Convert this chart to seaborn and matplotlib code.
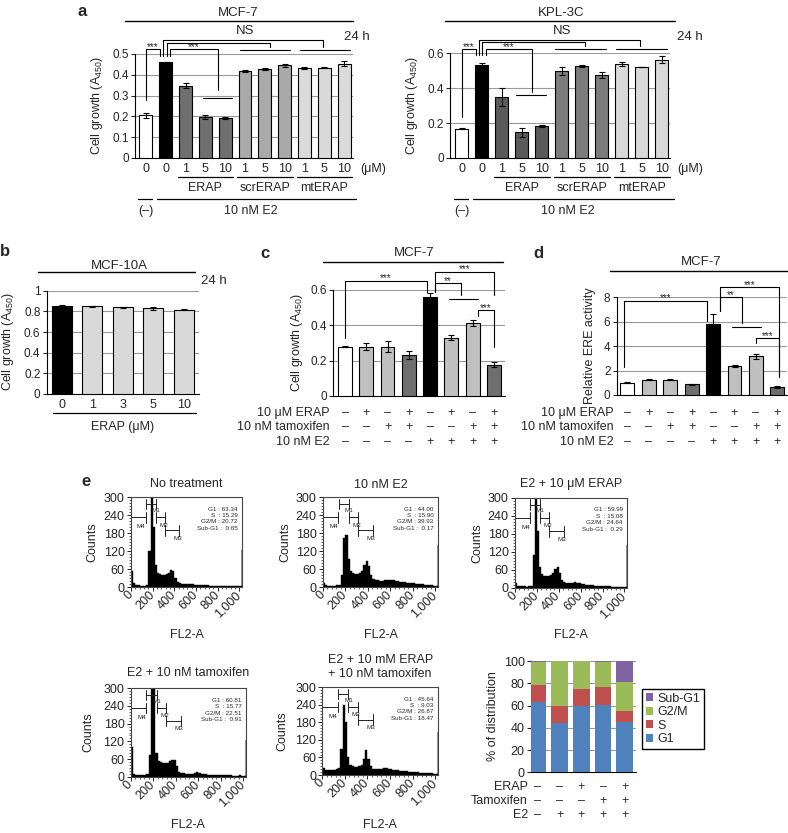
import numpy as np
import matplotlib
matplotlib.use("Agg")
import matplotlib.pyplot as plt
from matplotlib.lines import Line2D
from matplotlib.patches import Patch
from matplotlib.ticker import MultipleLocator
from matplotlib.transforms import blended_transform_factory
import seaborn as sns

W, H = 788, 833

# ---- panel a: cell growth, 24 h ----
a_doses = ["0", "0", "1", "5", "10", "1", "5", "10", "1", "5", "10"]
a_groups = ["ERAP", "scrERAP", "mtERAP"]
mcf7_growth = [0.205, 0.460, 0.348, 0.198, 0.193, 0.418, 0.428, 0.445, 0.432, 0.435, 0.452]
mcf7_err = [0.012, 0.003, 0.012, 0.010, 0.005, 0.003, 0.003, 0.007, 0.005, 0.001, 0.012]
kpl_growth = [0.168, 0.535, 0.350, 0.148, 0.185, 0.500, 0.525, 0.475, 0.540, 0.520, 0.563]
kpl_err = [0.002, 0.008, 0.050, 0.025, 0.005, 0.022, 0.006, 0.018, 0.012, 0.001, 0.020]

# ---- panel b: MCF-10A ----
b_doses = ["0", "1", "3", "5", "10"]
mcf10a_growth = [0.850, 0.848, 0.840, 0.828, 0.817]
mcf10a_err = [0.008, 0.002, 0.006, 0.015, 0.006]

# ---- panels c, d ----
row_names = ["10 \u03bcM ERAP", "10 nM tamoxifen", "10 nM E2"]
erap_row = ["\u2013", "+", "\u2013", "+", "\u2013", "+", "\u2013", "+"]
tam_row = ["\u2013", "\u2013", "+", "+", "\u2013", "\u2013", "+", "+"]
e2_row = ["\u2013", "\u2013", "\u2013", "\u2013", "+", "+", "+", "+"]
c_growth = [0.280, 0.280, 0.280, 0.232, 0.563, 0.330, 0.413, 0.177]
c_err = [0.002, 0.020, 0.032, 0.022, 0.022, 0.013, 0.015, 0.015]
d_ere = [1.02, 1.25, 1.25, 0.87, 5.80, 2.38, 3.18, 0.65]
d_err = [0.03, 0.02, 0.02, 0.06, 0.80, 0.10, 0.20, 0.06]

# ---- panel e: cell cycle ----
e_titles = ["No treatment", "10 nM E2", "E2 + 10 \u03bcM ERAP",
            "E2 + 10 nM tamoxifen", "E2 + 10 mM ERAP\n+ 10 nM tamoxifen"]
g1_pct = [63.34, 44.00, 59.99, 60.81, 45.64]
s_pct = [15.29, 15.90, 15.08, 15.77, 9.03]
g2m_pct = [20.72, 39.93, 24.64, 22.51, 26.87]
subg1_pct = [0.65, 0.17, 0.29, 0.91, 18.47]
e_erap = ["\u2013", "\u2013", "+", "\u2013", "+"]
e_tam = ["\u2013", "\u2013", "\u2013", "+", "+"]
e_e2 = ["\u2013", "+", "+", "+", "+"]

# FL2-A histograms, counts per 20-channel bin (last bin = channel 1023 pile-up)
fl2_channel = list(range(0, 1001, 20)) + [1020]
hist_no_treatment = [55, 14, 8, 6, 5, 5, 5, 7, 120, 300,
                     200, 75, 48, 42, 40, 40, 42, 48, 58, 52,
                     30, 16, 12, 11, 10, 10, 9, 9, 9, 8,
                     8, 7, 7, 6, 6, 6, 5, 5, 5, 5,
                     4, 4, 4, 4, 4, 3, 3, 3, 3, 3, 3, 125]
hist_e2 = [12, 6, 5, 5, 5, 5, 6, 8, 40, 165,
           172, 95, 55, 48, 45, 45, 47, 55, 75, 87,
           70, 40, 28, 24, 22, 21, 21, 22, 23, 24,
           23, 22, 20, 19, 18, 17, 16, 15, 14, 13,
           12, 11, 10, 10, 9, 8, 7, 6, 6, 5, 5, 140]
hist_e2_erap = [15, 8, 5, 5, 5, 4, 5, 8, 110, 300,
                190, 70, 45, 40, 40, 40, 42, 50, 62, 70,
                50, 28, 20, 18, 17, 17, 18, 20, 18, 16,
                14, 12, 11, 10, 9, 9, 8, 7, 7, 6,
                6, 5, 5, 5, 4, 4, 4, 4, 3, 3, 3, 143]
hist_e2_tam = [100, 10, 6, 5, 5, 5, 6, 10, 75, 300,
               300, 80, 52, 50, 48, 46, 48, 52, 57, 55,
               35, 15, 12, 11, 10, 10, 10, 10, 12, 15,
               11, 9, 8, 8, 7, 7, 6, 6, 6, 5,
               5, 5, 5, 5, 5, 4, 4, 4, 5, 4, 4, 125]
hist_e2_erap_tam = [25, 18, 18, 17, 18, 18, 20, 25, 90, 240,
                    180, 60, 35, 30, 28, 28, 30, 35, 55, 85,
                    55, 30, 22, 20, 20, 21, 22, 23, 24, 22,
                    20, 18, 17, 16, 15, 14, 13, 12, 11, 10,
                    10, 9, 9, 8, 8, 7, 7, 6, 6, 5, 5, 148]

sns.set_style("ticks")
plt.rcParams["font.family"] = ["Liberation Sans", "DejaVu Sans"]
plt.rcParams["mathtext.default"] = "regular"
plt.rcParams["font.size"] = 9
plt.rcParams["axes.linewidth"] = 0.8

fig = plt.figure(figsize=(W / 100, H / 100), dpi=100)


def add_ax(left, top, right, bottom):
    return fig.add_axes([left / W, 1 - bottom / H, (right - left) / W, (bottom - top) / H])


def ftext(x, y, s, **kw):
    kw.setdefault("ha", "center")
    kw.setdefault("va", "center")
    fig.text(x / W, 1 - y / H, s, **kw)


def fline(x0, x1, y, lw=1.0):
    fig.add_artist(Line2D([x0 / W, x1 / W], [1 - y / H] * 2, transform=fig.transFigure,
                          color="black", lw=lw))


def under_text(ax, x, y, s, **kw):
    tr = blended_transform_factory(ax.transData, fig.transFigure)
    ax.text(x, 1 - y / H, s, transform=tr, ha=kw.pop("ha", "center"), va="center", **kw)


def under_line(ax, x0, x1, y):
    tr = blended_transform_factory(ax.transData, fig.transFigure)
    ax.plot([x0, x1], [1 - y / H] * 2, transform=tr, color="black", lw=0.9, clip_on=False)


def bracket(ax, x0, x1, top, yl, yr, label=""):
    ax.plot([x0, x0, x1, x1], [yl, top, top, yr], color="black", lw=0.8,
            clip_on=False, zorder=5)
    if label:
        ax.annotate(label, xy=((x0 + x1) / 2, top), xytext=(0, -0.5),
                    textcoords="offset points", ha="center", va="baseline",
                    fontsize=7, annotation_clip=False)


def group_line(ax, x0, x1, y):
    ax.plot([x0, x1], [y, y], color="black", lw=0.8, clip_on=False, zorder=5)


def bar_panel(ax, vals, errs, colors, ymax, step, xlim):
    keys = [str(i) for i in range(len(vals))]
    sns.barplot(x=keys, y=vals, hue=keys, palette=colors, legend=False, width=0.65,
                saturation=1, edgecolor="black", linewidth=0.8, zorder=3, ax=ax)
    ax.errorbar(range(len(vals)), vals, yerr=errs, fmt="none", ecolor="black",
                elinewidth=0.8, capsize=2.5, capthick=0.8, zorder=4)
    ticks = np.round(np.arange(0, ymax + step / 2, step), 3)
    for t in ticks[1:]:
        ax.axhline(t, color="#9a9a9a", lw=0.8, zorder=1)
    ax.set_ylim(0, ymax)
    ax.set_xlim(*xlim)
    ax.set_yticks(ticks)
    ax.set_yticklabels(["0" if t == 0 else f"{t:g}" for t in ticks])
    ax.set_xticks([])
    ax.set_xlabel("")
    ax.set_ylabel("")
    ax.tick_params(axis="y", length=3, width=0.8, labelsize=8.5, pad=1.5)
    for side in ("top", "right"):
        ax.spines[side].set_visible(False)
    for side in ("left", "bottom"):
        ax.spines[side].set_color("black")


def sign_rows(ax, rows, names, ys, name_x):
    for row, name, y in zip(rows, names, ys):
        ftext(name_x, y, name, ha="right", fontsize=9)
        for i, s in enumerate(row):
            under_text(ax, i, y, s, fontsize=9)


# ================= panel a =================
ftext(82, 12, "a", fontsize=12, fontweight="bold")
group_span = [(1.6, 4.4), (4.6, 7.4), (7.6, 10.4)]
for vals, errs, colors, box, ymax, step, xlim, title_x, line_x, ylab_x, unit_x, br in [
    (mcf7_growth, mcf7_err,
     ["white", "black"] + ["#6f6f6f"] * 3 + ["#a9a9a9"] * 3 + ["#dadada"] * 3,
     (135, 54, 353, 158), 0.5, 0.1, (-0.55, 10.45), 238, (125, 353), 97, 373,
     dict(a=(0.524, 0.279, 0.49), ns=(0.567, 0.554, 0.535, 0.49), er=(0.524, 0.327),
          lines=(0.519, 0.29), nsy=0.594, xs=(8.96, 6.27, 3.66))),
    (kpl_growth, kpl_err,
     ["white", "black"] + ["#5a5a5a"] * 3 + ["#7c7c7c"] * 3 + ["#d9d9d9"] * 3,
     (450, 53.3, 670, 158), 0.6, 0.2, (-0.58, 10.4), 561, (445, 675), 412, 690,
     dict(a=(0.623, 0.237, 0.59), ns=(0.678, 0.663, 0.64, 0.59), er=(0.623, 0.381),
          lines=(0.623, 0.362), nsy=0.71, xs=(8.92, 6.17, 3.5))),
]:
    ax = add_ax(*box)
    bar_panel(ax, vals, errs, colors, ymax, step, xlim)
    ftext(title_x, 13, "MCF-7" if vals is mcf7_growth else "KPL-3C", fontsize=9.5)
    fline(line_x[0], line_x[1], 21)
    ftext(line_x[1] + (4 if vals is mcf7_growth else 15), 37, "24 h", fontsize=9.5)
    ftext(ylab_x, (box[1] + box[3]) / 2, "Cell growth (A$_{450}$)", rotation=90, fontsize=9)
    for i, d in enumerate(a_doses):
        under_text(ax, i, 169, d, fontsize=9)
    ftext(unit_x, 169, "(\u03bcM)", fontsize=9)
    for (g0, g1), name in zip(group_span, a_groups):
        under_line(ax, g0, g1, 177)
        under_text(ax, (g0 + g1) / 2, 188, name, fontsize=9)
    under_line(ax, -0.4, 0.3, 199)
    under_line(ax, 0.55, 10.6, 199)
    under_text(ax, 0, 211, "(\u2013)", fontsize=9)
    under_text(ax, 5.3, 211, "10 nM E2", fontsize=9)
    # significance marks
    top_a, yl_a, yr_a = br["a"]
    bracket(ax, 0, 0.72, top_a, yl_a, yr_a, "***")
    ns_top, sc_top, leg_end, leg_start = br["ns"]
    mt_x, scr_x, er_x = br["xs"]
    bracket(ax, 0.88, mt_x, ns_top, leg_start, leg_end)
    bracket(ax, 1.04, scr_x, sc_top, leg_start, leg_end)
    bracket(ax, 1.2, er_x, br["er"][0], leg_start, br["er"][1], "***")
    gl_top, gl_er = br["lines"]
    group_line(ax, mt_x - 1.2, mt_x + 1.35, gl_top)
    group_line(ax, scr_x - 1.5, scr_x + 1.02, gl_top)
    group_line(ax, er_x - 0.8, er_x + 0.7, gl_er)
    ax.text((0.88 + mt_x) / 2 + 0.1, br["nsy"], "NS", ha="center", va="baseline",
            fontsize=9.5)

# ================= panel b =================
ftext(5, 252, "b", fontsize=12, fontweight="bold")
ax = add_ax(46.7, 290.7, 199.3, 394)
bar_panel(ax, mcf10a_growth, mcf10a_err, ["black"] + ["#d9d9d9"] * 4, 1.0, 0.2, (-0.49, 4.51))
ftext(119, 266, "MCF-10A", fontsize=9.5)
fline(38, 195, 271.7)
ftext(214, 280.7, "24 h", fontsize=9.5)
ftext(8.5, 342, "Cell growth (A$_{450}$)", rotation=90, fontsize=9)
for i, d in enumerate(b_doses):
    under_text(ax, i, 405, d, fontsize=9)
under_line(ax, -0.27, 4.4, 412.7)
ftext(123, 426.7, "ERAP (\u03bcM)", fontsize=9)

# ================= panel c =================
cd_colors = ["white", "#c0c0c0", "#c0c0c0", "#6e6e6e", "black", "#c0c0c0", "#c0c0c0", "#6e6e6e"]
ftext(265, 253, "c", fontsize=12, fontweight="bold")
ax = add_ax(333.3, 290, 505, 396)
bar_panel(ax, c_growth, c_err, cd_colors, 0.6, 0.2, (-0.55, 7.52))
ftext(414, 253, "MCF-7", fontsize=9.5)
fline(323, 503, 261.7)
ftext(297, 343, "Cell growth (A$_{450}$)", rotation=90, fontsize=9)
bracket(ax, 0, 3.84, 0.653, 0.327, 0.587, "***")
bracket(ax, 4.23, 7.0, 0.704, 0.587, 0.572, "***")
bracket(ax, 4.23, 5.43, 0.638, 0.587, 0.572, "**")
bracket(ax, 6.26, 7.0, 0.487, 0.453, 0.279, "***")
group_line(ax, 4.89, 6.26, 0.549)
sign_rows(ax, [erap_row, tam_row, e2_row], row_names, [413, 427, 441.7], 330)

# ================= panel d =================
ftext(538, 253, "d", fontsize=12, fontweight="bold")
ax = add_ax(616.7, 297.3, 787, 395)
bar_panel(ax, d_ere, d_err, cd_colors, 8, 2, (-0.5, 7.45))
ftext(701, 261.7, "MCF-7", fontsize=9.5)
fline(610, 788, 270.7)
ftext(590, 346, "Relative ERE activity", rotation=90, fontsize=9)
bracket(ax, -0.15, 3.72, 7.72, 2.32, 6.06, "***")
bracket(ax, 4.3, 7.08, 8.82, 6.9, 1.5, "***")
bracket(ax, 4.3, 5.36, 8.0, 6.9, 5.87, "**")
bracket(ax, 6.02, 7.08, 4.64, 4.23, 1.5, "***")
group_line(ax, 4.89, 6.25, 5.54)
sign_rows(ax, [erap_row, tam_row, e2_row], row_names, [413, 427, 441.7], 614)

# ================= panel e: histograms =================
ftext(86, 482, "e", fontsize=12, fontweight="bold")
fl2_edges = fl2_channel + [1024]
gates = [("M4", 0, 135, 233, 95, 200), ("M1", 140, 231, 277, 232, 256),
         ("M2", 231, 314, 233, 300, 206), ("M3", 314, 447, 189, 430, 162)]
hist_layout = [
    (hist_no_treatment, (131, 497, 242, 587), 484, 92, 635),
    (hist_e2, (323, 497, 438, 587), 485, 285, 635),
    (hist_e2_erap, (515, 497.7, 627, 588), 484, 477, 635),
    (hist_e2_tam, (130.7, 688.3, 246, 776.7), 673, 88, 825),
    (hist_e2_erap_tam, (322.3, 687.3, 438, 775), 667, 282, 825),
]
for k, (counts, box, title_y, ylab_x, xlab_y) in enumerate(hist_layout):
    ax = add_ax(*box)
    sns.histplot(x=fl2_channel, weights=counts, bins=fl2_edges, element="step",
                 fill=True, color="black", alpha=1, linewidth=0.3, ax=ax)
    ax.set_xlim(0, 1024)
    ax.set_ylim(0, 300)
    ax.set_xlabel("")
    ax.set_ylabel("")
    ax.set_xticks(range(0, 1001, 200))
    ax.set_xticklabels(["0", "200", "400", "600", "800", "1,000"], rotation=45,
                       ha="right", va="center", rotation_mode="anchor")
    ax.set_yticks(range(0, 301, 60))
    ax.xaxis.set_minor_locator(MultipleLocator(40))
    ax.yaxis.set_minor_locator(MultipleLocator(10))
    ax.tick_params(which="major", length=3, width=0.7, labelsize=9, pad=1.5)
    ax.tick_params(which="minor", length=1.5, width=0.5)
    for sp in ax.spines.values():
        sp.set_color("#444444")
        sp.set_linewidth(0.8)
    for name, g0, g1, gy, lx, ly in gates:
        ax.plot([g0, g1], [gy, gy], color="#222222", lw=0.7)
        ax.plot([g0, g0], [gy - 18, gy + 18], color="#222222", lw=0.7)
        ax.plot([g1, g1], [gy - 18, gy + 18], color="#222222", lw=0.7)
        ax.text(lx, ly, name, fontsize=4.5, ha="center", va="center")
    stats = (f"G1 : {g1_pct[k]:.2f}\nS  : {s_pct[k]:.2f}\n"
             f"G2/M : {g2m_pct[k]:.2f}\nSub-G1 : {subg1_pct[k]:5.2f}")
    ax.text(985, 268, stats, fontsize=4.5, ha="right", va="top", linespacing=1.35)
    cx = (box[0] + box[2]) / 2
    ftext(cx, title_y, e_titles[k], fontsize=9, linespacing=1.15)
    ftext(ylab_x, (box[1] + box[3]) / 2, "Counts", rotation=90, fontsize=9)
    ftext(cx, xlab_y, "FL2-A", fontsize=9)

# ================= panel e: distribution =================
ax = add_ax(531, 661, 635.7, 772.3)
keys = [str(i) for i in range(len(g1_pct))]
g1 = np.array(g1_pct)
s_ = np.array(s_pct)
g2m = np.array(g2m_pct)
sub = np.array(subg1_pct)
phase_colors = {"Sub-G1": "#8064A2", "G2/M": "#9BBB59", "S": "#C0504D", "G1": "#4F81BD"}
for heights, name in [(g1 + s_ + g2m + sub, "Sub-G1"), (g1 + s_ + g2m, "G2/M"),
                      (g1 + s_, "S"), (g1, "G1")]:
    sns.barplot(x=keys, y=heights, color=phase_colors[name], width=0.77,
                saturation=1, linewidth=0, zorder=3, ax=ax)
for t in range(20, 101, 20):
    ax.axhline(t, color="#9a9a9a", lw=0.8, zorder=1)
ax.set_ylim(0, 100)
ax.set_xlim(-0.32, 4.5)
ax.set_yticks(range(0, 101, 20))
ax.set_xticks([])
ax.set_xlabel("")
ax.set_ylabel("")
ax.tick_params(axis="y", length=3, width=0.8, labelsize=9, pad=1.5)
for side in ("top", "right"):
    ax.spines[side].set_visible(False)
for side in ("left", "bottom"):
    ax.spines[side].set_color("black")
ftext(493, 716, "% of distribution", rotation=90, fontsize=9)
sign_rows(ax, [e_erap, e_tam, e_e2], ["ERAP", "Tamoxifen", "E2"], [786.7, 800.7, 815], 528)
handles = [Patch(facecolor=phase_colors[n], edgecolor="none") for n in phase_colors]
leg = fig.legend(handles, list(phase_colors), loc="upper left",
                 bbox_to_anchor=(642 / W, 1 - 689 / H), fontsize=9, frameon=True,
                 fancybox=False, edgecolor="black", framealpha=1, borderpad=0.3,
                 handlelength=0.6, handleheight=0.6, handletextpad=0.3,
                 labelspacing=0.12, borderaxespad=0)
leg.get_frame().set_linewidth(1.0)

fig.savefig("out.png", dpi=100)
